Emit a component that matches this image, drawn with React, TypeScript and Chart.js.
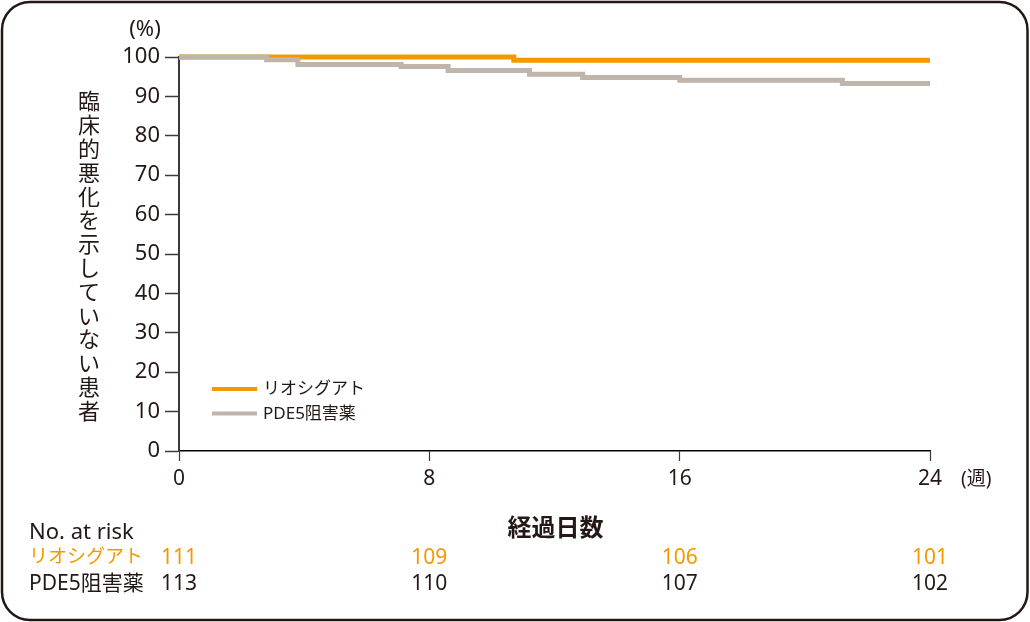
import React, { useEffect, useRef } from 'react';
import { Chart, registerables } from 'chart.js';

Chart.register(...registerables);

// ---- data ----
const seriesNames = ['リオシグアト', 'PDE5阻害薬'];
const riociguatWeeks = [0, 10.7, 24];
const riociguatValues = [100, 99.2, 99.2];
const pde5Weeks = [0, 2.8, 3.8, 7.1, 8.6, 11.2, 12.9, 16.0, 21.2, 24];
const pde5Values = [100, 99.3, 98.1, 97.6, 96.6, 95.6, 94.8, 94.1, 93.3, 93.3];
const xTickValues = [0, 8, 16, 24];
const yTickValues = [0, 10, 20, 30, 40, 50, 60, 70, 80, 90, 100];
const riskRiociguat = [111, 109, 106, 101];
const riskPDE5 = [113, 110, 107, 102];
const yTitle = '臨床的悪化を示していない患者';
const xTitle = '経過日数';
const xUnit = '(週)';
const yUnit = '(%)';
const riskTitle = 'No. at risk';

const ORANGE = '#F39800';
const GRAY = '#C0B5AA';
const INK = '#231815';
const FONT = "'Noto Sans', 'Noto Sans CJK JP', sans-serif";
const JFONT = "'Noto Sans CJK JP', sans-serif";

const annotations = {
  id: 'annotations',
  afterDraw(chart: any) {
    const ctx: CanvasRenderingContext2D = chart.ctx;
    const xs = chart.scales.x;
    const area = chart.chartArea;
    ctx.save();

    // frame
    ctx.strokeStyle = INK;
    ctx.lineWidth = 2.5;
    ctx.beginPath();
    (ctx as any).roundRect(2, 2, 1025.5, 618, 28);
    ctx.stroke();

    // vertical y title
    ctx.fillStyle = INK;
    ctx.font = `22px ${JFONT}`;
    ctx.textAlign = 'center';
    ctx.textBaseline = 'middle';
    const chars = Array.from(yTitle);
    chars.forEach((c, i) => {
      ctx.fillText(c, 89, 101 + i * 23.8);
    });

    // (%)
    ctx.font = `22px ${FONT}`;
    ctx.fillText(yUnit, 145, 30);

    // legend
    const legendY = [389, 413.5];
    const colors = [ORANGE, GRAY];
    seriesNames.forEach((name, i) => {
      ctx.strokeStyle = colors[i];
      ctx.lineWidth = 4;
      ctx.beginPath();
      ctx.moveTo(212, legendY[i]);
      ctx.lineTo(257, legendY[i]);
      ctx.stroke();
      ctx.fillStyle = INK;
      ctx.font = `17px ${FONT}`;
      ctx.textAlign = 'left';
      ctx.textBaseline = 'middle';
      ctx.fillText(name, 263, legendY[i] + 0.5);
    });

    // x unit
    ctx.fillStyle = INK;
    ctx.font = `19px ${FONT}`;
    ctx.textAlign = 'left';
    ctx.textBaseline = 'middle';
    ctx.fillText(xUnit, 961, 480);

    // x title
    ctx.font = `bold 24px ${JFONT}`;
    ctx.textAlign = 'center';
    ctx.fillText(xTitle, (area.left + area.right) / 2 + 1, 527);

    // risk table
    ctx.font = `22px ${FONT}`;
    ctx.textAlign = 'left';
    ctx.fillText(riskTitle, 29, 533);
    ctx.fillStyle = ORANGE;
    ctx.font = `19px ${FONT}`;
    ctx.fillText(seriesNames[0], 29, 558);
    ctx.fillStyle = INK;
    ctx.font = `21px ${FONT}`;
    ctx.fillText(seriesNames[1], 29, 584);
    ctx.font = `21px ${FONT}`;
    ctx.textAlign = 'center';
    xTickValues.forEach((w, i) => {
      const px = xs.getPixelForValue(w);
      ctx.fillStyle = ORANGE;
      ctx.fillText(String(riskRiociguat[i]), px, 558);
      ctx.fillStyle = INK;
      ctx.fillText(String(riskPDE5[i]), px, 584);
    });

    ctx.restore();
  },
};

export default function App() {
  const ref = useRef<HTMLCanvasElement | null>(null);
  useEffect(() => {
    if (!ref.current) return;
    const chart = new Chart(ref.current, {
      type: 'line',
      data: {
        datasets: [
          {
            label: seriesNames[0],
            data: riociguatWeeks.map((w, i) => ({ x: w, y: riociguatValues[i] })),
            borderColor: ORANGE,
            borderWidth: 5,
            stepped: 'before',
            pointRadius: 0,
            fill: false,
            clip: false,
            order: 2,
          },
          {
            label: seriesNames[1],
            data: pde5Weeks.map((w, i) => ({ x: w, y: pde5Values[i] })),
            borderColor: GRAY,
            borderWidth: 5,
            stepped: 'before',
            pointRadius: 0,
            fill: false,
            clip: false,
            order: 1,
          },
        ],
      },
      options: {
        animation: false,
        responsive: false,
        devicePixelRatio: 1,
        layout: { padding: { top: 57, right: 100, bottom: 0, left: 0 } },
        plugins: {
          legend: { display: false },
          tooltip: { enabled: false },
        },
        scales: {
          x: {
            type: 'linear',
            min: 0,
            max: 24,
            afterBuildTicks: (s: any) => {
              s.ticks = xTickValues.map((v) => ({ value: v }));
            },
            afterFit: (s: any) => {
              s.height = 171;
            },
            border: { display: true, color: '#000000', width: 1.5 },
            grid: {
              drawOnChartArea: false,
              drawTicks: true,
              tickLength: 10,
              tickColor: '#3e3a39',
              tickWidth: 1.2,
            },
            ticks: {
              color: INK,
              font: { family: FONT, size: 21 },
              padding: 5,
              maxRotation: 0,
              autoSkip: false,
            },
          },
          y: {
            type: 'linear',
            min: 0,
            max: 100,
            afterBuildTicks: (s: any) => {
              s.ticks = yTickValues.map((v) => ({ value: v }));
            },
            afterFit: (s: any) => {
              s.width = 179;
            },
            border: { display: true, color: '#3e3a39', width: 2 },
            grid: {
              drawOnChartArea: false,
              drawTicks: true,
              tickLength: 14,
              tickColor: '#3e3a39',
              tickWidth: 1.5,
            },
            ticks: {
              color: INK,
              font: { family: FONT, size: 22 },
              padding: 5,
              autoSkip: false,
            },
          },
        },
      },
      plugins: [annotations],
    } as any);
    return () => chart.destroy();
  }, []);
  return (
    <div style={{ position: 'fixed', left: 0, top: 0, width: 1030, height: 622, background: '#fff' }}>
      <canvas ref={ref} width={1030} height={622} style={{ display: 'block', width: 1030, height: 622 }} />
    </div>
  );
}
